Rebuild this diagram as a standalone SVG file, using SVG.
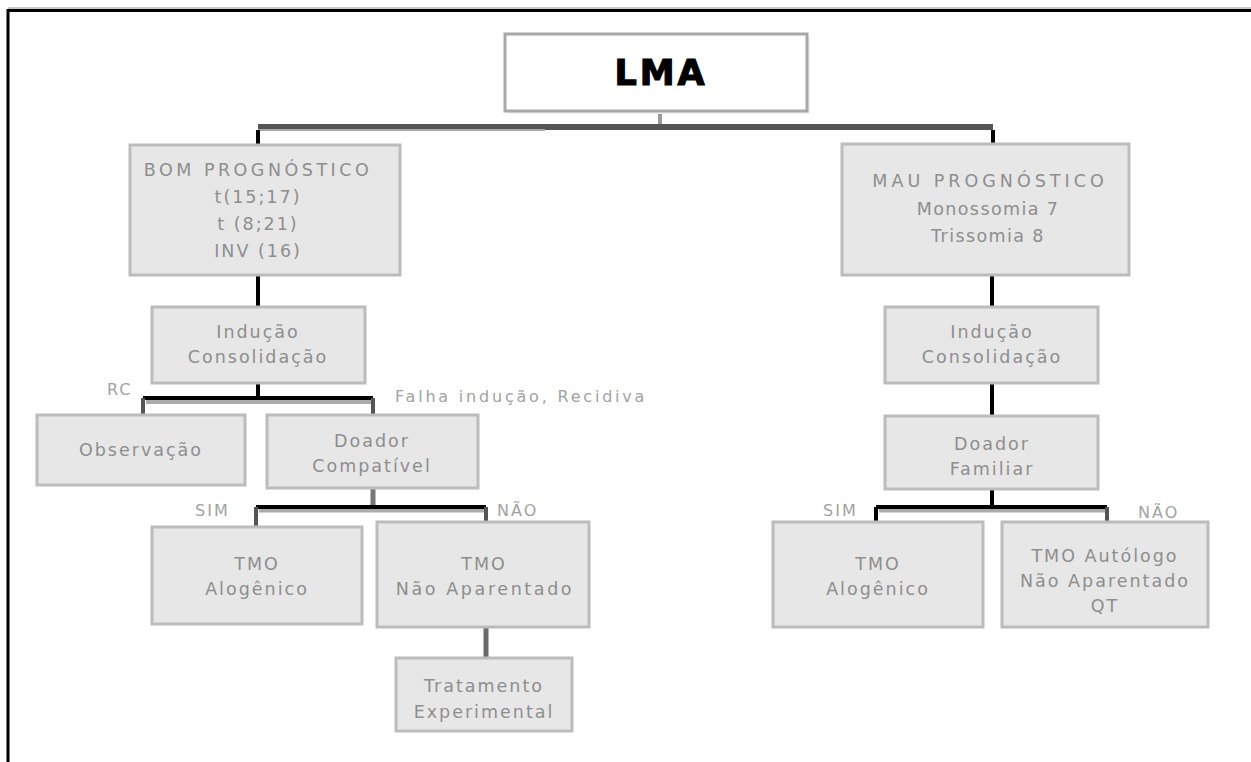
<svg xmlns="http://www.w3.org/2000/svg" width="1251" height="762" viewBox="0 0 1251 762">
<style>
.box{fill:#e7e7e7;stroke:#bcbcbc;stroke-width:3}
.shadow{fill:#f0f0f0}
.t{font-family:"DejaVu Sans",sans-serif;font-size:17.5px;fill:#8e8e8e;text-anchor:middle;letter-spacing:2px}
.lbl{font-family:"DejaVu Sans",sans-serif;font-size:16px;fill:#a2a2a2;letter-spacing:2px}
.ln{fill:none;stroke:#000;stroke-width:4}
.sh{fill:none;stroke:#ababab;stroke-width:4}
.dk{fill:none;stroke:#555;stroke-width:4}
</style>
<rect width="1251" height="762" fill="#fff"/>
<!-- frame -->
<path d="M8,8 H1251" stroke="#c8c8c8" stroke-width="2" fill="none"/>
<path d="M8,762 V10.5 H1251" stroke="#000" stroke-width="3" fill="none"/>

<g id="connectors">
  <path d="M660,111 V125" stroke="#9a9a9a" stroke-width="4" fill="none"/>
  <path d="M258,127 H993" stroke="#555" stroke-width="6" fill="none"/>
  <path d="M258,130 H545" stroke="#aaa" stroke-width="2" fill="none"/>
  <path d="M258,130 V145" class="ln"/>
  <path d="M993,130 V144" class="ln"/>
  <path d="M258,275 V307" class="ln"/>
  <path d="M992,275 V307" class="ln"/>
  <path d="M992,383 V416" class="ln"/>
  <!-- left bracket RC / Falha -->
  <path d="M258,383 V398" class="ln"/>
  <path d="M146,402 H373" class="sh"/>
  <path d="M143,398 H373" class="ln"/>
  <path d="M143,398 V415" class="dk"/>
  <path d="M373,398 V415" class="dk"/>
  <!-- Doador Compativel bracket -->
  <path d="M373,488 V507" stroke="#777" stroke-width="5" fill="none"/>
  <path d="M259,510.5 H486" class="sh"/>
  <path d="M256,507 H486" class="ln"/>
  <path d="M256,507 V526" class="dk"/>
  <path d="M486,507 V522" class="dk"/>
  <path d="M486,627 V660" stroke="#6a6a6a" stroke-width="5" fill="none"/>
  <!-- Doador Familiar bracket -->
  <path d="M992,489 V507" class="ln"/>
  <path d="M879,510.5 H1107" class="sh"/>
  <path d="M876,507 H1107" class="ln"/>
  <path d="M876,507 V522" class="ln"/>
  <path d="M1107,507 V522" class="dk"/>
</g>

<g id="lma">
  <rect x="508" y="37" width="302" height="77" class="shadow"/>
  <rect x="505" y="34" width="302" height="77" fill="#fff" stroke="#a8a8a8" stroke-width="3"/>
  <text x="661" y="85" font-family="DejaVu Sans,sans-serif" font-weight="bold" font-size="35" letter-spacing="3" text-anchor="middle" fill="#000" stroke="#000" stroke-width="1.2">LMA</text>
</g>

<g id="bom">
  <rect x="130" y="145" width="270" height="130" class="box"/>
  <text class="t" x="258" y="176" style="letter-spacing:3.5px">BOM PROGNÓSTICO</text>
  <text class="t" x="258" y="203">t(15;17)</text>
  <text class="t" x="258" y="230">t (8;21)</text>
  <text class="t" x="258" y="257">INV (16)</text>
</g>

<g id="mau">
  <rect x="842" y="144" width="287" height="131" class="box"/>
  <text class="t" x="990" y="187" style="letter-spacing:4px">MAU PROGNÓSTICO</text>
  <text class="t" x="988" y="215" style="letter-spacing:1.4px">Monossomia 7</text>
  <text class="t" x="988" y="242" style="letter-spacing:1.4px">Trissomia 8</text>
</g>

<g id="inducao_l">
  <rect x="152" y="307" width="213" height="76" class="box"/>
  <text class="t" x="258" y="338">Indução</text>
  <text class="t" x="258" y="363">Consolidação</text>
</g>

<g id="inducao_r">
  <rect x="885" y="307" width="213" height="76" class="box"/>
  <text class="t" x="992" y="338">Indução</text>
  <text class="t" x="992" y="363">Consolidação</text>
</g>

<g id="label_rc"><text class="lbl" x="107" y="395">RC</text></g>
<g id="label_falha"><text class="lbl" x="395" y="402" style="letter-spacing:2.8px">Falha indução, Recidiva</text></g>

<g id="observacao">
  <rect x="37" y="415" width="208" height="70" class="box"/>
  <text class="t" x="141" y="456">Observação</text>
</g>

<g id="doador_compativel">
  <rect x="267" y="415" width="211" height="73" class="box"/>
  <text class="t" x="372" y="447">Doador</text>
  <text class="t" x="372" y="472">Compatível</text>
</g>

<g id="doador_familiar">
  <rect x="885" y="416" width="213" height="73" class="box"/>
  <text class="t" x="992" y="450">Doador</text>
  <text class="t" x="992" y="475">Familiar</text>
</g>

<g id="label_sim_l"><text class="lbl" x="195" y="516">SIM</text></g>
<g id="label_nao_l"><text class="lbl" x="497" y="516">NÃO</text></g>
<g id="label_sim_r"><text class="lbl" x="823" y="516">SIM</text></g>
<g id="label_nao_r"><text class="lbl" x="1138" y="518">NÃO</text></g>

<g id="tmo_alo_l">
  <rect x="152" y="527" width="210" height="97" class="box"/>
  <text class="t" x="257" y="570">TMO</text>
  <text class="t" x="257" y="595">Alogênico</text>
</g>

<g id="tmo_nao_aparentado">
  <rect x="377" y="522" width="212" height="105" class="box"/>
  <text class="t" x="484" y="570">TMO</text>
  <text class="t" x="485" y="595" style="letter-spacing:2.6px">Não Aparentado</text>
</g>

<g id="tratamento">
  <rect x="396" y="658" width="176" height="73" class="box"/>
  <text class="t" x="484" y="692">Tratamento</text>
  <text class="t" x="484" y="718">Experimental</text>
</g>

<g id="tmo_alo_r">
  <rect x="773" y="522" width="210" height="105" class="box"/>
  <text class="t" x="878" y="570">TMO</text>
  <text class="t" x="878" y="595">Alogênico</text>
</g>

<g id="tmo_autologo">
  <rect x="1002" y="522" width="206" height="105" class="box"/>
  <text class="t" x="1105" y="562">TMO Autólogo</text>
  <text class="t" x="1105" y="587">Não Aparentado</text>
  <text class="t" x="1105" y="612">QT</text>
</g>
</svg>
